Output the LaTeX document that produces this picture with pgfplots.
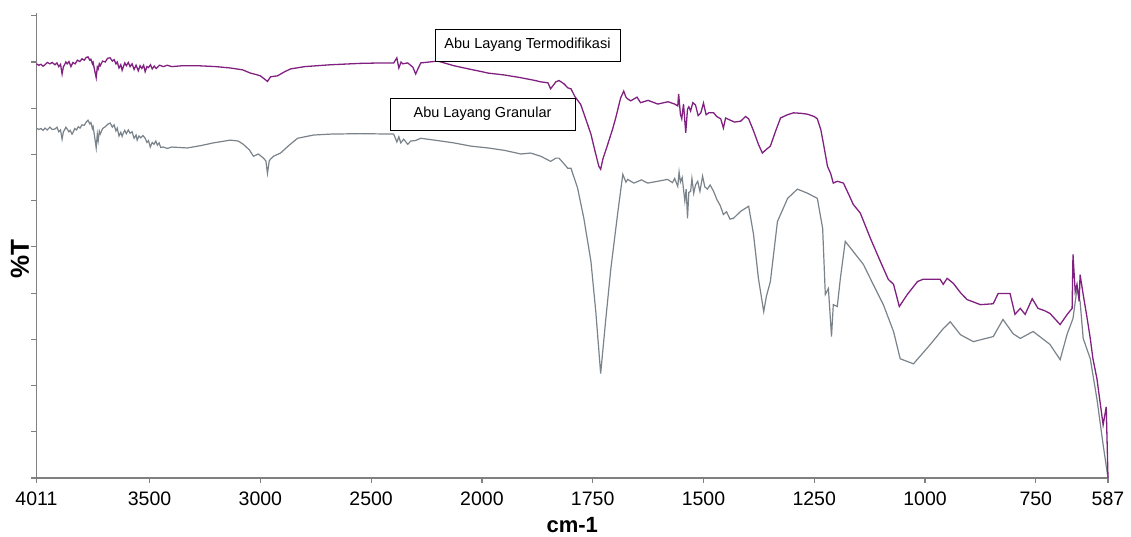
\documentclass[border=0pt]{standalone}
\usepackage{fontspec}
\setmainfont{Liberation Sans}
\usepackage{pgfplots}
\pgfplotsset{compat=1.18}
\definecolor{purp}{RGB}{128,32,128}
\definecolor{gry}{RGB}{122,130,138}
\definecolor{axgray}{RGB}{128,128,128}
\begin{document}
\begin{tikzpicture}
\begin{axis}[
  scale only axis,
  width=1071.6pt, height=465pt,
  x coord trafo/.code={\pgfmathparse{ifthenelse(#1>2000,1000+0.5*#1,#1)}},
  x dir=reverse,
  xmin=587, xmax=4011,
  ymin=0, ymax=100.6,
  axis x line*=bottom, axis y line*=left,
  axis line style={-, draw=axgray, line width=1.4pt},
  tick style={draw=axgray, line width=1.2pt},
  tick align=outside,
  major tick length=5pt,
  xtick={4011,3500,3000,2500,2000,1750,1500,1250,1000,750,587},
  xticklabels={4011,3500,3000,2500,2000,1750,1500,1250,1000,750,587},
  ytick={0,10,20,30,40,50,60,70,80,90,100},
  yticklabels={},
  /pgf/number format/assume math mode=true,
  xticklabel style={font=\fontsize{19.5}{20}\selectfont, inner sep=0pt, anchor=north, yshift=-9pt},
  clip=false,
]
\addplot[gry, line width=1.2pt] coordinates {
(4011,75.7)(4000,75.4)(3990,75.6)(3981,75.2)(3972,75.7)(3962,75.3)(3950,75.9)(3940,75.4)
(3927,75.5)(3918,75.9)(3910,74.9)(3902,75.3)(3895,73.3)(3889,74.9)(3885,75.2)(3878,75.9)
(3872,75.5)(3864,74.9)(3858,75.2)(3850,74.4)(3845,74.8)(3838,75.6)(3830,75.3)(3822,76.0)
(3814,75.7)(3805,76.4)(3795,76.3)(3786,77.0)(3778,77.4)(3770,76.6)(3765,76.9)(3758,75.6)
(3755,76.0)(3748,73.8)(3741,71.4)(3736,74.4)(3732,73.0)(3727,75.0)(3723,74.4)(3712,75.6)
(3700,76.0)(3690,76.5)(3678,76.8)(3668,75.9)(3660,76.4)(3652,75.1)(3646,75.7)(3638,74.0)
(3630,74.8)(3624,73.9)(3619,74.6)(3612,75.2)(3605,74.5)(3596,75.3)(3588,74.6)(3579,74.9)
(3570,73.5)(3561,74.2)(3556,73.1)(3548,74.0)(3540,73.6)(3530,74.1)(3520,73.5)(3512,72.6)
(3505,73.0)(3497,71.6)(3488,72.6)(3480,72.2)(3472,72.9)(3465,72.0)(3457,72.5)(3450,71.5)
(3438,71.6)(3420,71.3)(3400,71.6)
(3330,71.4) (3270,71.9) (3212,72.5)
(3135,73.1) (3100,72.9) (3077,72.2) (3050,71.0) (3031,69.6) (3009,70.1) (2986,69.2)
(2975,68.6) (2968,65.9) (2960,68.6) (2954,69.0) (2941,69.6) (2909,70.3) (2870,72.0)
(2832,73.5) (2760,74.2) (2683,74.4) (2550,74.5) (2398,74.4) (2384,72.7) (2375,73.8)
(2366,72.5) (2353,73.3) (2335,72.2) (2321,72.9) (2300,73.0) (2276,73.5) (2200,73.0)
(2127,72.5) (2050,71.8) (1986,71.4) (1950,70.9) (1912,70.1) (1890,70.3) (1867,69.6) (1845,68.5) (1833,69.2)
(1826,69.2) (1815,68.0) (1806,67.0) (1799,67.0) (1784,62.7) (1770,56.2) (1754,46.9)
(1743,36.0) (1732,22.6) (1721,33.8) (1709,45.3) (1693,57.7) (1682,65.7) (1675,64.0)
(1671,64.6) (1657,63.8) (1640,64.5) (1626,63.8) (1603,64.2)
(1581,64.6)(1570,63.9)(1565,64.8)(1558,63.1)(1555,66.2)(1552,64.0)(1548,65.0)(1542,59.9)
(1539,62.5)(1536,56.2)(1533,61.8)(1529,62.0)(1526,64.8)(1522,61.6)(1518,63.4)(1513,64.2)
(1508,62.0)(1502,65.3)(1497,63.0)(1491,62.5)(1485,63.4)(1477,62.0)(1470,60.3)(1462,58.9)
(1455,57.0)(1448,57.6)(1440,56.0)
(1432,56.2) (1416,57.7) (1398,58.8) (1387,52.7)
(1376,43.2) (1364,36.0) (1358,39.3) (1349,42.5) (1333,55.5) (1310,60.5) (1288,62.5)
(1265,61.6) (1243,60.5) (1231,54.0) (1225,39.7) (1218,41.0) (1211,30.6) (1207,37.5)
(1198,37.1) (1191,43.2) (1180,51.2) (1162,49.0) (1139,46.2) (1117,41.9) (1094,37.5)
(1071,31.7) (1056,25.8) (1026,24.7) (988,28.9) (959,32.3) (943,33.8) (920,31.0)
(891,29.5) (846,30.6) (824,34.3) (801,31.2) (785,30.2) (756,31.7) (718,28.9)
(695,25.6) (679,31.2) (666,34.5) (657,41.0) (650,38.2) (643,30.2) (627,25.8)
(612,17.1) (598,7.2) (587,0)
};
\addplot[purp, line width=1.3pt] coordinates {
(4011,89.6)(4000,89.3)(3990,89.5)(3981,89.1)(3972,89.4)(3962,89.9)(3950,89.6)(3940,89.9)
(3927,89.4)(3918,89.8)(3910,89.0)(3902,89.5)(3895,87.4)(3889,89.0)(3885,89.3)(3878,90.0)
(3872,89.6)(3864,90.1)(3855,89.0)(3846,89.9)(3836,89.6)(3826,90.4)(3815,90.1)(3805,90.7)
(3795,90.4)(3786,91.0)(3778,91.1)(3770,90.4)(3765,90.6)(3758,89.6)(3755,89.9)(3748,88.2)
(3741,86.6)(3736,88.9)(3732,88.5)(3727,89.6)(3723,89.2)(3712,90.2)(3700,90.0)(3690,90.8)
(3678,90.9)(3668,90.2)(3660,90.5)(3652,89.6)(3646,90.0)(3638,88.7)(3630,89.4)(3624,88.2)
(3619,88.9)(3612,89.8)(3605,89.2)(3596,89.9)(3588,89.0)(3579,89.6)(3570,88.4)(3561,89.3)
(3551,88.1)(3543,89.2)(3535,88.6)(3527,89.3)(3520,87.9)(3512,89.0)(3505,88.8)(3496,89.4)
(3488,88.5)(3479,89.1)(3470,88.6)(3455,89.3)(3438,89.0)(3420,89.3)(3400,89.0)
(3350,89.2) (3285,89.2) (3200,89.0) (3135,88.7) (3080,88.3) (3045,87.6)
(3020,87.3) (3000,87.0) (2981,86.3) (2968,85.8) (2954,86.8) (2923,87.0) (2890,87.9)
(2864,88.5) (2800,89.0) (2683,89.4) (2550,89.7) (2450,89.8) (2398,89.8) (2384,90.9)
(2375,88.7) (2365,90.0) (2357,89.6) (2335,89.8) (2312,88.9) (2299,87.4) (2288,88.6)
(2276,89.8) (2199,90.2) (2127,89.2) (2060,88.5) (2000,87.9) (1986,87.6) (1950,87.2)
(1912,86.6) (1880,86.0) (1867,85.7) (1851,85.5) (1845,84.2) (1833,85.7) (1826,86.0)
(1815,85.3) (1806,84.4) (1799,84.2) (1790,82.5) (1777,80.8) (1765,77.5) (1754,74.4)
(1745,70.8) (1736,67.4) (1732,66.8) (1727,69.0) (1716,72.2) (1705,75.5) (1698,77.9)
(1687,82.2) (1680,83.7) (1675,82.4) (1671,82.0) (1664,81.6) (1650,82.4) (1642,81.2)
(1625,81.7) (1603,80.9) (1580,81.4) (1565,80.9) (1558,80.5) (1556,83.1) (1552,78.7)
(1549,77.7) (1545,80.9) (1540,74.7) (1536,79.8) (1533,80.3) (1529,79.4) (1524,81.2)
(1518,80.7) (1512,78.4) (1506,79.0) (1500,81.1) (1494,78.6) (1488,79.0) (1477,79.0)
(1470,78.2) (1461,77.7) (1455,75.7) (1450,77.9) (1446,77.7) (1430,77.0) (1416,77.2)
(1405,78.2) (1398,77.7) (1387,75.1) (1376,72.2) (1367,70.3) (1358,71.1) (1349,71.8)
(1337,75.1) (1326,77.9) (1310,78.6) (1297,79.0) (1280,78.9) (1265,78.7) (1250,78.2)
(1243,77.7) (1235,75.3) (1229,72.2) (1220,67.4) (1213,65.9) (1207,63.8) (1198,64.2)
(1184,63.8) (1170,60.9) (1162,59.2) (1146,57.3) (1123,51.8) (1101,46.9) (1083,43.0)
(1071,41.9) (1058,37.1) (1040,39.7) (1017,42.5) (1004,43.0) (980,43.0) (966,43.0)
(959,41.9) (950,43.2) (936,42.1) (920,40.1) (905,38.6) (875,37.5) (846,37.7)
(835,39.9) (808,39.9) (797,35.4) (785,36.7) (774,35.4) (758,38.8) (745,36.7)
(730,36.2) (718,35.6) (695,33.2) (679,35.4) (668,36.7) (666,48.4) (661,40.3)
(657,41.9) (652,38.2) (650,44.0) (643,39.7) (634,34.5) (627,30.2) (621,25.8)
(612,21.5) (605,16.5) (598,11.5) (591,15.4) (587,0)
};
\end{axis}
\begin{scope}[shift={(current axis.south west)}]
\node[draw=black, line width=0.8pt, fill=white, minimum width=185pt, minimum height=32pt,
      inner sep=0pt, font=\fontsize{14.5}{16}\selectfont] at (491.1pt,433pt) {Abu Layang Termodifikasi};
\node[draw=black, line width=0.8pt, fill=white, minimum width=185pt, minimum height=32pt,
      inner sep=0pt, font=\fontsize{14.5}{16}\selectfont] at (446.1pt,364pt) {Abu Layang Granular};
\node[rotate=90, inner sep=0pt, font=\bfseries\fontsize{26}{28}\selectfont] at (-16.4pt,219pt) {\%T};
\node[inner sep=0pt, font=\bfseries\fontsize{22}{24}\selectfont] at (535.8pt,-47pt) {cm-1};
\pgfresetboundingbox
\path[use as bounding box] (-36.4pt,-58pt) rectangle (1094.6pt,478pt);
\end{scope}
\end{tikzpicture}
\end{document}
